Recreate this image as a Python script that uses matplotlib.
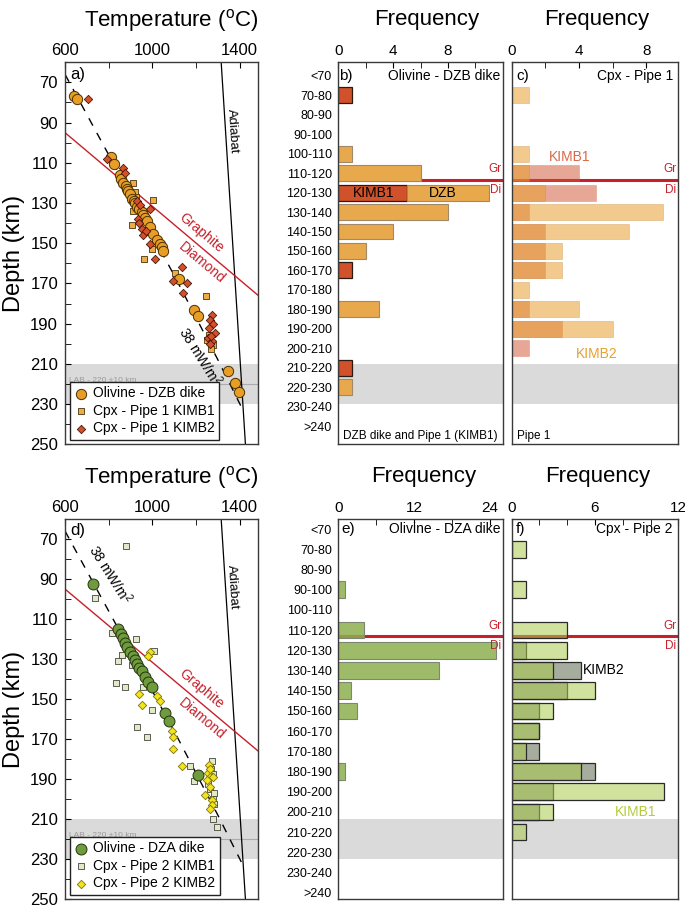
import numpy as np
import matplotlib.pyplot as plt
import matplotlib.transforms as mtransforms
from matplotlib.colors import to_rgba

plt.rcParams['font.family'] = ['Liberation Sans', 'DejaVu Sans']
plt.rcParams['mathtext.fontset'] = 'custom'
plt.rcParams['mathtext.rm'] = 'Liberation Sans'
plt.rcParams['mathtext.it'] = 'Liberation Sans:italic'

# === depth classes of the histograms ===
bins = ['<70', '70-80', '80-90', '90-100', '100-110', '110-120', '120-130',
        '130-140', '140-150', '150-160', '160-170', '170-180', '180-190',
        '190-200', '200-210', '210-220', '220-230', '230-240', '>240']

# b) olivine DZB dike + pipe 1 KIMB1 olivine
dzb_olv   = [0, 0, 0, 0, 1, 6, 6, 8, 4, 2, 0, 0, 3, 0, 0, 0, 1, 0, 0]
kimb1_olv = [0, 1, 0, 0, 0, 0, 5, 0, 0, 0, 1, 0, 0, 0, 0, 1, 0, 0, 0]
# c) cpx pipe 1
p1_kimb1 = [0, 0, 0, 0, 0, 4, 5, 1, 2, 2, 2, 0, 1, 3, 1, 0, 0, 0, 0]
p1_kimb2 = [0, 1, 0, 0, 1, 1, 2, 9, 7, 3, 3, 1, 4, 6, 0, 0, 0, 0, 0]
# e) olivine DZA dike
dza_olv = [0, 0, 0, 1, 0, 4, 25, 16, 2, 3, 0, 0, 1, 0, 0, 0, 0, 0, 0]
# f) cpx pipe 2
p2_kimb1 = [0, 1, 0, 1, 0, 4, 4, 3, 6, 3, 2, 1, 5, 11, 3, 1, 0, 0, 0]
p2_kimb2 = [0, 0, 0, 0, 0, 0, 1, 5, 4, 2, 2, 2, 6, 3, 2, 0, 0, 0, 0]

# === P-T estimates (T in C, depth in km) ===
a_olv_T = [641, 656, 811, 826, 850, 858, 867, 878, 885, 890, 898, 905, 915, 921, 928, 940,
           951, 959, 966, 974, 990, 1005, 1020, 1035, 1043, 1050, 1122, 1192, 1208, 1345, 1379, 1398]
a_olv_D = [77, 78.5, 107, 110.5, 116, 118, 120, 121.5, 123, 124, 125.5, 128, 129, 130, 132, 133,
           134.5, 136, 137.5, 139, 142, 145.5, 148.5, 150.5, 152, 154, 168, 183, 186, 213.5, 219.7, 224]
a_k1_T = [913, 919, 1005, 913, 905, 997, 962, 1104, 1246, 1249, 1259, 1277, 1269, 925]
a_k1_D = [120, 124.7, 128.5, 134, 141, 153, 158, 165, 176.3, 198, 195.5, 200.5, 202.7, 127]
a_k2_T = [707, 794, 864, 875, 928, 989, 935, 951, 959, 969, 989, 1014, 1134, 1096, 1157, 1139,
          1272, 1264, 1278, 1287, 1260, 1255, 1275, 1262, 1270, 945, 940]
a_k2_D = [78.5, 108, 112.5, 115, 129, 133, 138, 143, 146, 144, 150.5, 158, 161.7, 169, 170, 175,
          185.5, 188, 190, 194.7, 192, 197, 198.5, 200, 196, 131, 140]

d_olv_T = [730, 844, 855, 864, 875, 885, 898, 910, 921, 928, 940, 951, 966, 982, 997, 1058, 1078, 1211]
d_olv_D = [92.7, 115, 117.7, 119.7, 121.7, 123.8, 126.3, 128.3, 130.5, 132.5, 134.5, 136, 139,
           141.3, 143.8, 157, 160.7, 187.7]
d_k1_T = [879, 737, 817, 925, 1008, 844, 860, 905, 834, 875, 959, 1000, 928, 974, 1172, 1191,
          1272, 1269, 1277, 1254, 1262, 1284, 1277, 1284, 1277, 1295]
d_k1_D = [73.3, 99.3, 116.8, 120, 126, 131, 127.7, 133, 141.7, 143.7, 143.8, 155.5, 163.8, 169,
          183.5, 191, 181, 184.7, 187.2, 192.2, 194.7, 196.7, 199.7, 202.2, 209.7, 213.8]
d_k2_T = [989, 979, 940, 1023, 1035, 951, 1092, 1096, 1096, 1134, 1259, 1254, 1262, 1249, 1262,
          1243, 1274, 1272, 1265, 1262, 1277]
d_k2_D = [126.3, 128.5, 147.5, 148.5, 151, 153, 166, 169, 175, 183.5, 183, 186.7, 188.8, 190.5,
          193.8, 198, 200.5, 203, 205, 184.7, 188.8]

# reference lines
geo_T = [600, 700, 800, 900, 1000, 1100, 1200, 1300, 1410]
geo_D = [66, 86, 106, 126, 146, 166, 187, 208, 232]
adiabat_T = [1315, 1426]
adiabat_D = [60, 250]
grdi_T = [600, 1485]
grdi_D = [95, 176]
LAB, LAB_err = 220, 10
GRDI_DEPTH = 118.5

RED = '#C8202A'
GRAY = '#D9DAD9'

fig = plt.figure(figsize=(6.85, 9.08), dpi=100)
ax_a = fig.add_axes([0.0949, 0.5107, 0.2822, 0.4207])
ax_b = fig.add_axes([0.4939, 0.5107, 0.2400, 0.4207])
ax_c = fig.add_axes([0.7470, 0.5107, 0.2432, 0.4207])
ax_d = fig.add_axes([0.0949, 0.0096, 0.2822, 0.4188])
ax_e = fig.add_axes([0.4939, 0.0096, 0.2400, 0.4188])
ax_f = fig.add_axes([0.7470, 0.0096, 0.2432, 0.4188])


def frame(ax):
    for s in ax.spines.values():
        s.set_color('#3a3a3a')
        s.set_linewidth(1.0)


def pt_panel(ax, letter, olv, k1, k2, sty, names, geo_xy):
    ax.axhspan(LAB - LAB_err, LAB + LAB_err, color=GRAY, lw=0, zorder=0)
    ax.axhline(LAB, color='#ababab', lw=0.8, zorder=0.5)
    ax.text(618, LAB - 1.8, 'LAB - 220 \u00b110 km', fontsize=6, color='#9a9a9a', va='center')
    ax.plot(adiabat_T, adiabat_D, color='k', lw=0.9, zorder=1)
    ax.plot(grdi_T, grdi_D, color=RED, lw=1.0, zorder=1)
    ax.plot(geo_T, geo_D, color='k', lw=1.0, dashes=(6, 6), zorder=1)
    h2 = ax.scatter(k1[0], k1[1], marker='s', s=22, **sty[1], zorder=3)
    h1 = ax.scatter(olv[0], olv[1], marker='o', s=sty[0].pop('s'), **sty[0], zorder=4)
    h3 = ax.scatter(k2[0], k2[1], marker='D', s=18, **sty[2], zorder=5)

    ax.text(1368, 94, 'Adiabat', rotation=-86.3, fontsize=9.5, ha='center', va='center')
    ax.text(1224, 144.7, 'Graphite', rotation=-40, color=RED, fontsize=10,
            ha='center', va='center', rotation_mode='anchor')
    ax.text(1226, 159.7, 'Diamond', rotation=-40, color=RED, fontsize=10,
            ha='center', va='center', rotation_mode='anchor')
    ax.text(geo_xy[0], geo_xy[1], '38 mW/m$^2$', rotation=-58, fontsize=10,
            ha='center', va='center', rotation_mode='anchor')
    ax.text(0.025, 0.969, letter, transform=ax.transAxes, fontsize=12, va='center')

    ax.legend([h1, h2, h3], names, loc='lower left', bbox_to_anchor=(0.01, 0.005),
              fontsize=10, frameon=True, fancybox=False, framealpha=1, edgecolor='#222222',
              borderpad=0.3, labelspacing=0.25, handletextpad=0.4, handlelength=1.0,
              borderaxespad=0.2)

    ax.set_xlim(600, 1485)
    ax.set_ylim(250, 60)
    ax.xaxis.tick_top()
    ax.set_xticks([600, 1000, 1400])
    ax.set_xticks([800, 1200], minor=True)
    ax.set_yticks(np.arange(70, 251, 20))
    ax.set_yticks(np.arange(60, 251, 10), minor=True)
    ax.tick_params(axis='both', which='both', direction='in', length=4, labelsize=12)
    ax.tick_params(axis='x', which='both', top=True, bottom=False, pad=3)
    ax.tick_params(axis='y', which='both', left=True, right=False, pad=5)
    ax.text(1.0, 1.11, 'Temperature ($^{\\mathrm{o}}$C)', transform=ax.transAxes,
            fontsize=16, ha='right', va='center')
    ax.text(-0.266, 0.5, 'Depth (km)', transform=ax.transAxes, rotation=90,
            fontsize=17, ha='center', va='center')
    frame(ax)


def hist_panel(ax, ax_pt, ylim, xmax, major, minor, show_cats, title_x):
    pos = np.arange(len(bins))
    trans = mtransforms.blended_transform_factory(ax.transAxes, ax_pt.transData)
    ax.add_patch(plt.Rectangle((0, LAB - LAB_err), 1, 2 * LAB_err, transform=trans,
                               facecolor=GRAY, edgecolor='none', zorder=0))
    ax.plot([0, 1], [GRDI_DEPTH, GRDI_DEPTH], transform=trans, color=RED, lw=2.2, zorder=1)
    ax.text(0.99, GRDI_DEPTH - 2.2, 'Gr', transform=trans, color=RED, fontsize=8.5,
            ha='right', va='bottom')
    ax.text(0.99, GRDI_DEPTH + 2.2, 'Di', transform=trans, color=RED, fontsize=8.5,
            ha='right', va='top')
    ax.set_ylim(*ylim)
    ax.set_xlim(0, xmax)
    ax.xaxis.tick_top()
    ax.set_xticks(major)
    ax.set_xticks(minor, minor=True)
    ax.tick_params(axis='x', which='both', direction='in', length=4, labelsize=11,
                   top=True, bottom=False, pad=3)
    ax.set_yticks(pos)
    if show_cats:
        ax.set_yticklabels(bins, fontsize=9)
    else:
        ax.set_yticklabels([])
    ax.tick_params(axis='y', length=0, pad=4.5)
    ax.text(title_x, 1.113, 'Frequency', transform=ax.transAxes, fontsize=16,
            ha='center', va='center')
    frame(ax)
    return pos


def bars(ax, pos, vals, left=None, **kw):
    vals = np.asarray(vals, dtype=float)
    m = vals > 0
    lft = 0 if left is None else np.asarray(left, dtype=float)[m]
    ax.barh(pos[m], vals[m], left=lft, height=0.82, zorder=2, **kw)


# ---- panel a ----
pt_panel(ax_a, 'a)', (a_olv_T, a_olv_D), (a_k1_T, a_k1_D), (a_k2_T, a_k2_D),
         [dict(s=55, c='#E89E26', edgecolors='#4a3000', linewidths=0.7),
          dict(c='#EDAC45', edgecolors='#4a3510', linewidths=0.6),
          dict(c='#D4502A', edgecolors='#4a1505', linewidths=0.6)],
         ['Olivine - DZB dike', 'Cpx - Pipe 1 KIMB1', 'Cpx - Pipe 1 KIMB2'], (1222, 206))

# ---- panel d ----
pt_panel(ax_d, 'd)', (d_olv_T, d_olv_D), (d_k1_T, d_k1_D), (d_k2_T, d_k2_D),
         [dict(s=62, c='#6E9B3B', edgecolors='#26330f', linewidths=0.7),
          dict(c='#E2E9C9', edgecolors='#45463c', linewidths=0.6),
          dict(c='#F2E31C', edgecolors='#7d7408', linewidths=0.6)],
         ['Olivine - DZA dike', 'Cpx - Pipe 2 KIMB1', 'Cpx - Pipe 2 KIMB2'], (806, 87.5))

# ---- panel b ----
pos = hist_panel(ax_b, ax_a, (18.94, -0.70), 12, [0, 4, 8], [2, 6, 10], True, 0.54)
bars(ax_b, pos, kimb1_olv, color='#D1512A', edgecolor='#2a1a10', lw=0.9)
bars(ax_b, pos, dzb_olv, left=kimb1_olv, color='#E8A94C', edgecolor='#a08868', lw=0.8)
ax_b.text(2.6, 6, 'KIMB1', fontsize=10, ha='center', va='center', zorder=3)
ax_b.text(7.6, 6, 'DZB', fontsize=10, ha='center', va='center', zorder=3)
ax_b.text(0.022, 0, 'b)', fontsize=11, va='center')
ax_b.text(0.985, 0, 'Olivine - DZB dike', fontsize=10, va='center', ha='right',
          transform=mtransforms.blended_transform_factory(ax_b.transAxes, ax_b.transData))
ax_b.text(0.026, 0.022, 'DZB dike and Pipe 1 (KIMB1)', fontsize=8.5, transform=ax_b.transAxes,
          va='center')

# ---- panel c ----
pos = hist_panel(ax_c, ax_a, (18.94, -0.70), 9.9, [0, 4, 8], [2, 6], False, 0.512)
bars(ax_c, pos, p1_kimb1, color=to_rgba('#D05030', 0.5), edgecolor=to_rgba('#D05030', 0.3), lw=0.6)
bars(ax_c, pos, p1_kimb2, color=to_rgba('#E8A030', 0.55), edgecolor=to_rgba('#C08030', 0.35), lw=0.6)
ax_c.text(3.45, 4.15, 'KIMB1', color='#D9684A', fontsize=10, ha='center', va='center')
ax_c.text(5.05, 14.28, 'KIMB2', color='#E8A030', fontsize=10, ha='center', va='center')
ax_c.text(0.3, 0, 'c)', fontsize=11, va='center')
ax_c.text(0.968, 0, 'Cpx - Pipe 1', fontsize=10, va='center', ha='right',
          transform=mtransforms.blended_transform_factory(ax_c.transAxes, ax_c.transData))
ax_c.text(0.032, 0.022, 'Pipe 1', fontsize=8.5, transform=ax_c.transAxes, va='center')

# ---- panel e ----
pos = hist_panel(ax_e, ax_d, (18.33, -0.50), 26, [0, 12, 24], [6, 18], True, 0.52)
bars(ax_e, pos, dza_olv, color=to_rgba('#8DB04F', 0.85), edgecolor='#7d8670', lw=0.8)
ax_e.text(0.5, 0, 'e)', fontsize=11, va='center')
ax_e.text(0.985, 0, 'Olivine - DZA dike', fontsize=10, va='center', ha='right',
          transform=mtransforms.blended_transform_factory(ax_e.transAxes, ax_e.transData))

# ---- panel f ----
pos = hist_panel(ax_f, ax_d, (18.33, -0.50), 12, [0, 6, 12], [2, 4, 8, 10], False, 0.517)
bars(ax_f, pos, p2_kimb2, color=to_rgba('#5E6A4E', 0.55), edgecolor='#2a2a2a', lw=0.9)
bars(ax_f, pos, p2_kimb1, color=to_rgba('#AACB4E', 0.55), edgecolor='#2a2a2a', lw=0.9)
ax_f.text(6.65, 7, 'KIMB2', fontsize=10, ha='center', va='center')
ax_f.text(8.9, 14.03, 'KIMB1', color='#B5CA3E', fontsize=10, ha='center', va='center')
ax_f.text(0.3, 0, 'f)', fontsize=11, va='center')
ax_f.text(0.968, 0, 'Cpx - Pipe 2', fontsize=10, va='center', ha='right',
          transform=mtransforms.blended_transform_factory(ax_f.transAxes, ax_f.transData))

fig.savefig('out.png', dpi=100)
